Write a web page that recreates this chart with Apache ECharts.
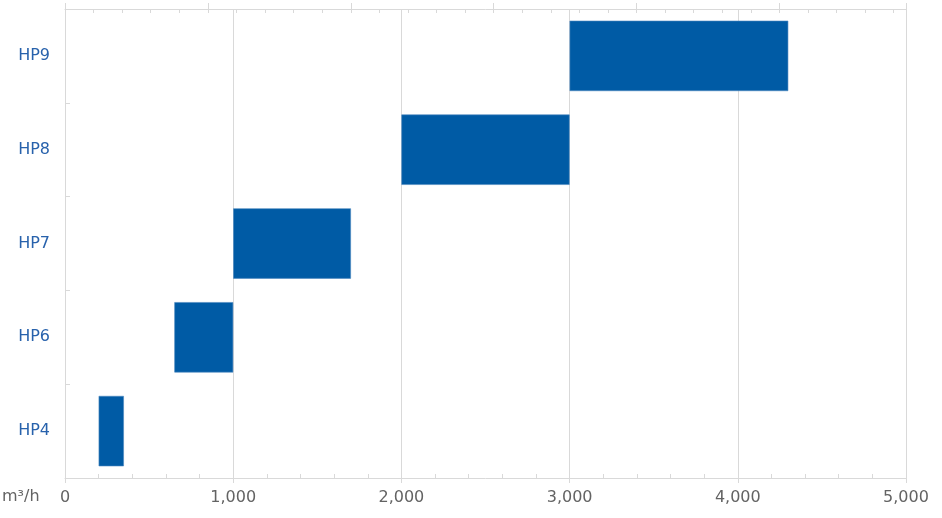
<!DOCTYPE html>
<html>
<head>
<meta charset="utf-8">
<script src="https://cdn.jsdelivr.net/npm/echarts@6/dist/echarts.min.js"></script>
<style>
html,body{margin:0;padding:0;background:#fff;}
#chart{width:942px;height:518px;}
</style>
</head>
<body>
<div id="chart"></div>
<script>
// Data
var categories = ['HP4', 'HP6', 'HP7', 'HP8', 'HP9'];
var rangeLow  = [200, 650, 1000, 2000, 3000];   // m³/h
var rangeHigh = [350, 1000, 1700, 3000, 4300];  // m³/h
var xTicks = [0, 1000, 2000, 3000, 4000, 5000];
var unitLabel = 'm³/h';
var M3H_PER_CFM = 1.69901;

var spanData = rangeHigh.map(function (h, i) { return h - rangeLow[i]; });

var grey = '#d9d9d9';
var font = '"DejaVu Sans", sans-serif';

var chart = echarts.init(document.getElementById('chart'));
chart.setOption({
  animation: false,
  grid: { left: 65, right: 36, top: 9, bottom: 40, containLabel: false },
  xAxis: [
    { // main m³/h axis
      type: 'value', position: 'bottom', min: xTicks[0], max: xTicks[xTicks.length - 1], interval: 1000,
      axisLine: { show: true, lineStyle: { color: grey, width: 1 } },
      axisTick: { show: true, inside: true, length: 4, lineStyle: { color: grey } },
      minorTick: { show: true, splitNumber: 5, length: 4, lineStyle: { color: grey } },
      splitLine: { show: true, lineStyle: { color: grey, width: 1 } },
      axisLabel: {
        color: '#636363', fontSize: 16, fontFamily: font, margin: 12,
        formatter: function (v) { return v.toLocaleString('en-US'); }
      }
    },
    { // outward major ticks on bottom
      type: 'value', position: 'bottom', min: xTicks[0], max: xTicks[xTicks.length - 1], interval: 1000,
      axisLine: { show: false },
      axisTick: { show: true, inside: false, length: 5, lineStyle: { color: grey } },
      splitLine: { show: false }, axisLabel: { show: false }
    },
    { // top cfm axis
      type: 'value', position: 'top', min: 0, max: xTicks[xTicks.length - 1] / M3H_PER_CFM, interval: 500,
      axisLine: { show: true, lineStyle: { color: grey, width: 1 } },
      axisTick: { show: true, inside: true, length: 4, lineStyle: { color: grey } },
      minorTick: { show: true, splitNumber: 5, length: 4, lineStyle: { color: grey } },
      splitLine: { show: false }, axisLabel: { show: false }
    },
    { // outward major ticks on top
      type: 'value', position: 'top', min: 0, max: xTicks[xTicks.length - 1] / M3H_PER_CFM, interval: 500,
      axisLine: { show: false },
      axisTick: { show: true, inside: false, length: 6, lineStyle: { color: grey } },
      splitLine: { show: false }, axisLabel: { show: false }
    }
  ],
  yAxis: {
    type: 'category', data: categories,
    axisLine: { show: true, lineStyle: { color: grey, width: 1 } },
    axisTick: { show: true, inside: true, length: 5, lineStyle: { color: grey } },
    splitLine: { show: false },
    axisLabel: { color: '#2862ac', fontSize: 16, fontFamily: font, margin: 15 }
  },
  graphic: [{
    type: 'text', left: 2, top: 489,
    style: { text: unitLabel, fill: '#636363', font: '16px ' + font }
  }],
  series: [
    {
      type: 'bar', stack: 'r', data: rangeLow, barCategoryGap: '25%',
      itemStyle: { color: 'rgba(0,0,0,0)' }, silent: true
    },
    {
      type: 'bar', stack: 'r', data: spanData, barCategoryGap: '25%',
      itemStyle: { color: '#005ba5', borderColor: '#4a86c0', borderWidth: 0.6 }
    }
  ]
});
</script>
</body>
</html>
